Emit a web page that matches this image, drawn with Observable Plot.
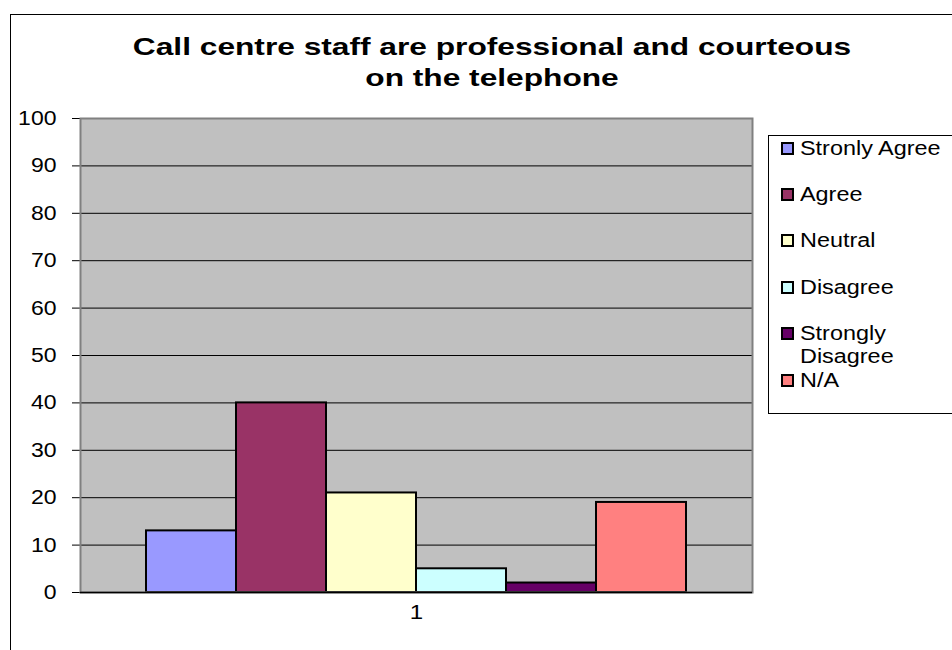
<!DOCTYPE html>
<html>
<head>
<meta charset="utf-8">
<script src="https://cdn.jsdelivr.net/npm/d3@7"></script>
<script src="https://cdn.jsdelivr.net/npm/@observablehq/plot@0.6"></script>
<style>
  html, body { margin: 0; padding: 0; background: #fff; }
  body { width: 952px; height: 650px; overflow: hidden; position: relative; font-family: "Liberation Sans", Arial, sans-serif; }
  #frame { position: absolute; left: 10px; top: 14px; width: 1000px; height: 700px; border: 1px solid #000; box-sizing: border-box; }
  #chart { position: absolute; left: 0; top: 0; }
  #title { position: absolute; left: 0; top: 31px; width: 984px; text-align: center; font-weight: bold; font-size: 24px; line-height: 31px; color: #000; transform: scaleX(1.32); transform-origin: 492px 0; }
  #legend { position: absolute; left: 768px; top: 135px; width: 220px; height: 279px; border: 1px solid #000; box-sizing: border-box; background: #fff; }
  .item { position: absolute; left: 12px; font-size: 20px; line-height: 23px; color: #000; }
  .sw { position: absolute; left: 0; width: 13px; height: 13px; border: 2px solid #000; box-sizing: border-box; }
  .lab { position: absolute; left: 19px; top: 0; white-space: nowrap; transform: scaleX(1.17); transform-origin: 0 0; }
</style>
</head>
<body>
<div id="frame"></div>
<div id="chart"></div>
<div id="title">Call centre staff are professional and courteous<br>on the telephone</div>
<div id="legend"></div>
<script>
// Data
const categories = ["Stronly Agree", "Agree", "Neutral", "Disagree", "Strongly Disagree", "N/A"];
const values = [13, 40, 21, 5, 2, 19];
const xLabels = ["1"];
const yTicks = [0, 10, 20, 30, 40, 50, 60, 70, 80, 90, 100];
const legendLabels = ["Stronly Agree", "Agree", "Neutral", "Disagree", "Strongly<br>Disagree", "N/A"];
const palette = ["#9999FF", "#993366", "#FFFFCC", "#CCFFFF", "#660066", "#FF8080"];

const data = categories.map((c, i) => ({name: c, value: values[i]}));

const plot = Plot.plot({
  width: 952,
  height: 650,
  marginLeft: 80,
  marginRight: 200,
  marginTop: 118,
  marginBottom: 58,
  style: {fontFamily: "'Liberation Sans', Arial, sans-serif", fontSize: "20px", color: "#000", background: "transparent", overflow: "visible"},
  x: {type: "band", domain: categories, paddingInner: 0, paddingOuter: 0.733, align: 0.5, axis: null},
  y: {domain: [0, 100], ticks: yTicks, tickSize: 8, tickPadding: 16, label: null, line: true},
  color: {domain: categories, range: palette},
  marks: [
    Plot.frame({fill: "#C0C0C0", stroke: "none"}),
    Plot.ruleY(yTicks, {stroke: "#000", strokeWidth: 1}),
    Plot.barY(data, {x: "name", y: "value", fill: "name", stroke: "#000", strokeWidth: 2, inset: 0}),
    Plot.frame({stroke: "#808080", strokeWidth: 2}),
    Plot.ruleY([0], {stroke: "#000", strokeWidth: 1.5}),
    Plot.text(xLabels, {frameAnchor: "bottom", dy: 26, fontSize: 21, fill: "#000"})
  ]
});
document.getElementById("chart").appendChild(plot);

// Stretch text horizontally like the original rendering
plot.querySelectorAll("text").forEach(t => {
  if (t.querySelector("tspan")) return;
  const len = t.getComputedTextLength();
  if (len > 0) {
    t.setAttribute("textLength", (len * 1.15).toFixed(1));
    t.setAttribute("lengthAdjust", "spacingAndGlyphs");
  }
});

// Legend
const rowTops = [136.5, 182.5, 228.5, 275.5, 321.5, 368.5];
const legend = document.getElementById("legend");
legendLabels.forEach((lab, i) => {
  const item = document.createElement("div");
  item.className = "item";
  item.style.top = (rowTops[i] - 136) + "px";
  const sw = document.createElement("div");
  sw.className = "sw";
  sw.style.background = palette[i];
  sw.style.top = "5px";
  const tx = document.createElement("div");
  tx.className = "lab";
  tx.innerHTML = lab;
  item.appendChild(sw);
  item.appendChild(tx);
  legend.appendChild(item);
});
</script>
</body>
</html>
